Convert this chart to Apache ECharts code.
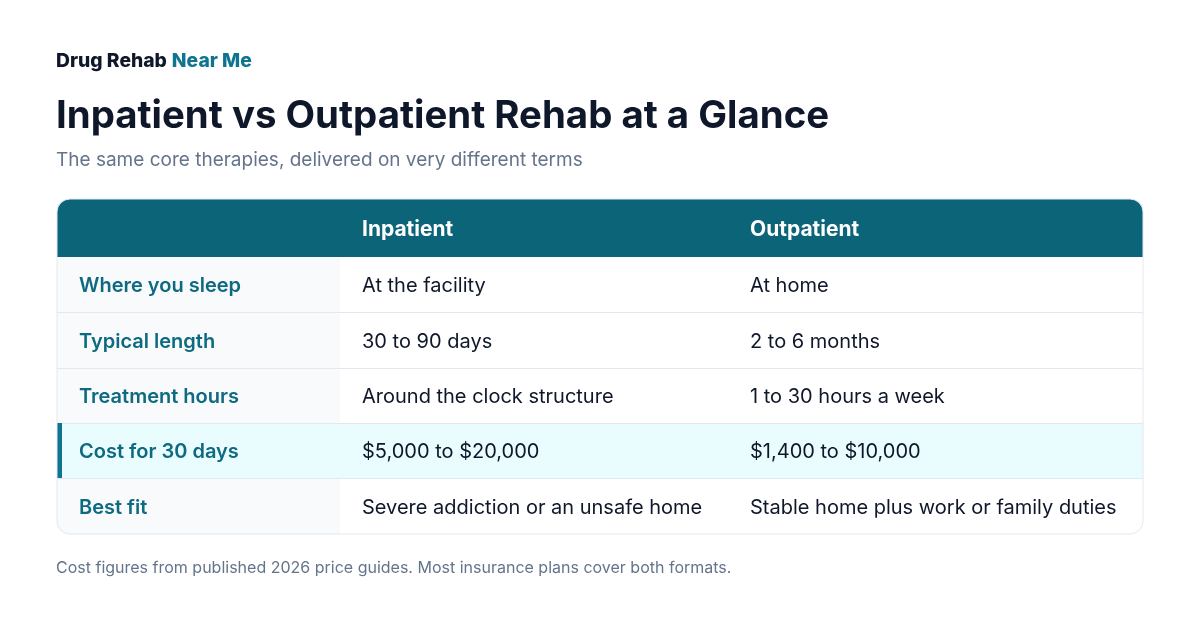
<!DOCTYPE html>
<html>
<head>
<meta charset="utf-8">
<title>Inpatient vs Outpatient Rehab at a Glance</title>
<script src="https://cdn.jsdelivr.net/npm/echarts@6/dist/echarts.min.js"></script>
<style>
html,body{margin:0;padding:0;background:#fff;}
#main{width:1200px;height:624px;}
</style>
</head>
<body>
<div id="main"></div>
<script>
var columns = ['', 'Inpatient', 'Outpatient'];
var rowLabels = ['Where you sleep', 'Typical length', 'Treatment hours', 'Cost for 30 days', 'Best fit'];
var inpatient = ['At the facility', '30 to 90 days', 'Around the clock structure', '$5,000 to $20,000', 'Severe addiction or an unsafe home'];
var outpatient = ['At home', '2 to 6 months', '1 to 30 hours a week', '$1,400 to $10,000', 'Stable home plus work or family duties'];
var highlightRow = 'Cost for 30 days';

// table layout, in axis units (1 unit = 1px)
var colEdges = [0, 283, 671, 1086];
var rowEdges = [0, 58, 113, 169, 224, 279, 335];
var fontName = 'Inter, "Noto Sans", sans-serif';

var teal = '#0b6477', label = '#0e6a80', ink = '#0f172a', grey = '#64748b', line = '#e2e8f0';

// one item per cell: [col, row, text]
var cells = [];
columns.forEach(function (c, i) { cells.push([i, 0, c]); });
rowLabels.forEach(function (r, i) {
    cells.push([0, i + 1, r]);
    cells.push([1, i + 1, inpatient[i]]);
    cells.push([2, i + 1, outpatient[i]]);
});

function renderCell(params, api) {
    var col = api.value(0), row = api.value(1), text = cells[params.dataIndex][2];
    var lt = api.coord([colEdges[col], rowEdges[row]]);
    var rb = api.coord([colEdges[col + 1], rowEdges[row + 1]]);
    var isHead = row === 0;
    var isHi = !isHead && rowLabels[row - 1] === highlightRow;
    var last = row === rowLabels.length;

    var fill = '#ffffff';
    if (isHead) fill = teal;
    else if (isHi) fill = '#eafdfe';
    else if (col === 0) fill = '#f8fafc';

    var radius = 0;
    if (isHead && col === 0) radius = [13, 0, 0, 0];
    if (isHead && col === 2) radius = [0, 13, 0, 0];
    if (last && col === 0) radius = [0, 0, 0, 13];
    if (last && col === 2) radius = [0, 0, 13, 0];

    var kids = [{
        type: 'rect',
        shape: { x: lt[0], y: lt[1], width: rb[0] - lt[0], height: rb[1] - lt[1], r: radius },
        style: { fill: fill }
    }];
    // row rule sits above the fill of the next row
    if (!isHead && !last) {
        kids.push({
            type: 'line',
            z2: 2,
            shape: { x1: lt[0], y1: rb[1] + 0.5, x2: rb[0], y2: rb[1] + 0.5 },
            style: { stroke: line, lineWidth: 1 }
        });
    }
    if (isHi && col === 0) {
        kids.push({
            type: 'rect',
            z2: 3,
            shape: { x: lt[0], y: lt[1], width: 5, height: rb[1] - lt[1] },
            style: { fill: '#0e7490' }
        });
    }
    if (text) {
        kids.push({
            type: 'text',
            z2: 4,
            style: {
                x: lt[0] + 22,
                y: (lt[1] + rb[1]) / 2 + 1.5,
                text: text,
                verticalAlign: 'middle',
                fontFamily: fontName,
                fontSize: isHead ? 21 : 20,
                fontWeight: isHead ? 700 : (col === 0 ? 600 : 400),
                fill: isHead ? '#ffffff' : (col === 0 ? label : ink)
            }
        });
    }
    return { type: 'group', children: kids };
}

// outer rounded border of the table, drawn over the cells
function renderFrame(params, api) {
    var lt = api.coord([colEdges[0], rowEdges[0]]);
    var rb = api.coord([colEdges[3], rowEdges[6]]);
    return {
        type: 'rect',
        shape: { x: lt[0], y: lt[1], width: rb[0] - lt[0], height: rb[1] - lt[1], r: 13 },
        style: { fill: 'none', stroke: line, lineWidth: 1 }
    };
}

var chart = echarts.init(document.getElementById('main'), null, { renderer: 'canvas' });
chart.setOption({
    animation: false,
    backgroundColor: '#ffffff',
    title: [
        {
            left: 51, top: 47,
            text: '{a|Drug Rehab} {b|Near Me}',
            textStyle: {
                rich: {
                    a: { fontFamily: fontName, fontSize: 19.3, fontWeight: 800, color: ink },
                    b: { fontFamily: fontName, fontSize: 19.3, fontWeight: 800, color: '#0e7490' }
                }
            }
        },
        {
            left: 51, top: 92,
            text: 'Inpatient vs Outpatient Rehab at a Glance',
            textStyle: { fontFamily: fontName, fontSize: 38.4, fontWeight: 700, color: ink }
        },
        {
            left: 51, top: 146,
            text: 'The same core therapies, delivered on very different terms',
            textStyle: { fontFamily: fontName, fontSize: 19, fontWeight: 400, color: grey }
        },
        {
            left: 51, top: 555,
            text: 'Cost figures from published 2026 price guides. Most insurance plans cover both formats.',
            textStyle: { fontFamily: fontName, fontSize: 16, fontWeight: 400, color: grey }
        }
    ],
    grid: { left: 57, top: 199, width: 1086, height: 335 },
    xAxis: { type: 'value', min: 0, max: 1086, show: false },
    yAxis: { type: 'value', min: 0, max: 335, inverse: true, show: false },
    series: [
        { type: 'custom', coordinateSystem: 'cartesian2d', clip: false, silent: true, renderItem: renderCell, data: cells.map(function (c) { return [c[0], c[1]]; }) },
        { type: 'custom', coordinateSystem: 'cartesian2d', clip: false, silent: true, z: 3, renderItem: renderFrame, data: [[0, 0]] }
    ]
});
</script>
</body>
</html>
